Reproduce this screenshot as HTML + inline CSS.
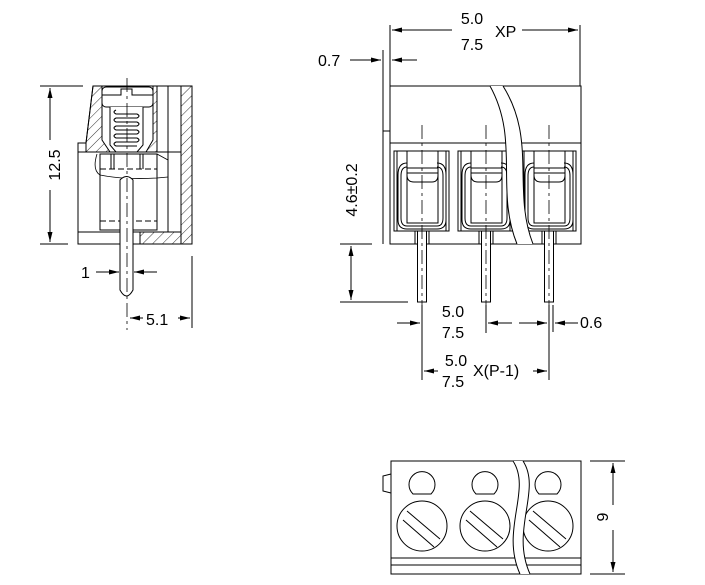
<!DOCTYPE html>
<html><head><meta charset="utf-8"><style>
html,body{margin:0;padding:0;background:#fff;}
svg{display:block;}
text{font-family:"Liberation Sans",sans-serif;font-size:16px;fill:#000;}
</style></head><body>
<svg width="705" height="585" viewBox="0 0 705 585" xmlns="http://www.w3.org/2000/svg">
<defs>
<pattern id="h" width="7" height="7" patternUnits="userSpaceOnUse" patternTransform="rotate(45)">
<line x1="0" y1="0" x2="0" y2="7" stroke="#000" stroke-width="0.8"/>
</pattern>
<marker id="a" viewBox="0 0 10 6" refX="10" refY="3" markerWidth="10" markerHeight="6" orient="auto-start-reverse" markerUnits="userSpaceOnUse">
<path d="M0,0.5 L10,3 L0,5.5z" fill="#000"/>
</marker>
<g id="cell" fill="none" stroke="#000" stroke-width="1">
<rect x="-28" y="151" width="55" height="80"/>
<line x1="-25" y1="151" x2="-25" y2="231"/>
<line x1="24" y1="151" x2="24" y2="231"/>
<path d="M-15,163 Q-24,163 -24,175 L-24,220 Q-24,229 -15,229 L15,229 Q24,229 24,220 L24,175 Q24,163 15,163"/>
<path d="M-15,167 Q-21,167 -21,176 L-21,218 Q-21,226 -15,226 L15,226 Q21,226 21,218 L21,176 Q21,167 15,167"/>
<path d="M-15,151 L-15,223 L16,223 L16,151"/>
<path d="M-15,175 Q-15,182 -8,182 L10,182 Q16,182 16,175"/>
<line x1="-15" y1="168" x2="16" y2="168"/>
<line x1="-15" y1="173" x2="16" y2="173"/>
<line x1="-7" y1="231" x2="-7" y2="244"/>
<line x1="7" y1="231" x2="7" y2="244"/>
<rect x="-4.5" y="231" width="9" height="71" fill="#fff"/>
<line x1="0" y1="125" x2="0" y2="310" stroke-dasharray="14,4,3,4" stroke-width="0.8"/>
</g>
</defs>

<g fill="none" stroke="#000" stroke-width="1">
<!-- LEFT VIEW -->
<line x1="40" y1="86" x2="83" y2="86"/>
<line x1="40" y1="244" x2="68" y2="244"/>
<line x1="50" y1="88" x2="50" y2="140" marker-start="url(#a)"/>
<line x1="50" y1="190" x2="50" y2="242" marker-end="url(#a)"/>
<path d="M93,86 L102,86 L102,140 L110,152 L86,152 L86,143 Z" fill="url(#h)"/>
<path d="M153,86 L157,86 L157,152 L146,152 L153,140 Z" fill="url(#h)"/>
<rect x="181" y="86" width="11" height="158" fill="url(#h)"/>
<path d="M140,232 L181,232 L181,244 L140,244 Z" fill="url(#h)"/>
<path d="M93,86 L192,86 L192,244 L78,244 L78,143 L86,143 Z"/>
<line x1="78" y1="152" x2="181" y2="152"/>
<line x1="157" y1="86" x2="157" y2="152"/>
<line x1="168" y1="86" x2="168" y2="232"/>
<line x1="181" y1="86" x2="181" y2="232"/>
<line x1="78" y1="232" x2="181" y2="232"/>
<line x1="140" y1="232" x2="140" y2="244"/>
<!-- screw -->
<rect x="102" y="87" width="51" height="20" rx="4" fill="#fff"/>
<path d="M102,95 L121,95 L121,89 L132,89 L132,95 L153,95"/>
<path d="M110,107 L110,145 L116,152 L137,152 L143,145 L143,107" fill="#fff"/>
<path d="M116,110 Q112,112 116,114 L137,114 Q141,116 137,118 L116,118 Q112,120 116,122 L137,122 Q141,124 137,126 L116,126 Q112,128 116,130 L137,130 Q141,132 137,134 L116,134 Q112,136 116,138 L137,138 Q141,140 137,142 L116,142 Q112,144 116,146 L137,146"/>
<rect x="100" y="154" width="57" height="76"/>
<line x1="100" y1="169" x2="157" y2="169" stroke-dasharray="6,3"/>
<line x1="100" y1="221" x2="157" y2="221" stroke-dasharray="6,3"/>
<line x1="111" y1="154" x2="111" y2="169"/>
<line x1="114" y1="154" x2="114" y2="169"/>
<line x1="140" y1="154" x2="140" y2="169"/>
<line x1="143" y1="154" x2="143" y2="169"/>
<path d="M97,154 Q92,170 100,175 Q125,180 157,178 L168,177" stroke-width="0.8"/>
<path d="M157,154 L168,160" stroke-width="0.8"/>
<path d="M120,180 L120,290 Q126.5,302 133,290 L133,180 Q126.5,173 120,180 Z" fill="#fff"/>
<line x1="127" y1="78" x2="127" y2="330" stroke-dasharray="14,4,3,4" stroke-width="0.8"/>
<line x1="96" y1="272" x2="119" y2="272" marker-end="url(#a)"/>
<line x1="157" y1="272" x2="134" y2="272" marker-end="url(#a)"/>
<line x1="192" y1="256" x2="192" y2="328"/>
<line x1="130" y1="318" x2="143" y2="318" marker-start="url(#a)"/>
<line x1="178" y1="318" x2="190" y2="318" marker-end="url(#a)"/>

<!-- RIGHT VIEW -->
<line x1="390" y1="25" x2="390" y2="120"/>
<line x1="580" y1="25" x2="580" y2="86"/>
<line x1="392" y1="30" x2="452" y2="30" marker-start="url(#a)"/>
<line x1="522" y1="30" x2="578" y2="30" marker-end="url(#a)"/>
<line x1="383" y1="50" x2="383" y2="244"/>
<line x1="350" y1="60" x2="381" y2="60" marker-end="url(#a)"/>
<line x1="417" y1="60" x2="392" y2="60" marker-end="url(#a)"/>
<rect x="390" y="86" width="191" height="158"/>
<line x1="390" y1="143" x2="581" y2="143"/>
<line x1="383" y1="131" x2="390" y2="131"/>
<use href="#cell" x="422"/>
<use href="#cell" x="486"/>
<use href="#cell" x="549"/>
<path d="M490,86 C520,140 495,190 517,244 L533,244 C512,190 537,140 503,86 Z" fill="#fff" stroke="none"/>
<path d="M490,86 C520,140 495,190 517,244 M503,86 C537,140 512,190 533,244"/>
<!-- 4.6 dim -->
<line x1="340" y1="244" x2="372" y2="244"/>
<line x1="340" y1="302" x2="408" y2="302"/>
<line x1="351" y1="246" x2="351" y2="300" marker-start="url(#a)" marker-end="url(#a)"/>
<!-- pitch dims -->
<line x1="422" y1="305" x2="422" y2="380"/>
<line x1="549" y1="305" x2="549" y2="380"/>
<line x1="553" y1="305" x2="553" y2="332"/>
<line x1="486" y1="305" x2="486" y2="333"/>
<line x1="397" y1="323" x2="420" y2="323" marker-end="url(#a)"/>
<line x1="512" y1="323" x2="488" y2="323" marker-end="url(#a)"/>
<line x1="519" y1="323" x2="547" y2="323" marker-end="url(#a)"/>
<line x1="578" y1="323" x2="555" y2="323" marker-end="url(#a)"/>
<line x1="424" y1="371" x2="438" y2="371" marker-start="url(#a)"/>
<line x1="533" y1="371" x2="547" y2="371" marker-end="url(#a)"/>

<!-- BOTTOM VIEW -->
<rect x="391" y="461" width="190" height="113"/>
<line x1="391" y1="558" x2="581" y2="558"/>
<line x1="391" y1="565" x2="581" y2="565"/>
<path d="M391,474 L383,476 L383,491 L391,493"/>
<g id="sc">
<path d="M413,494 A13,13 0 1 1 431,494 Z"/>
<circle cx="422" cy="526" r="25"/>
<line x1="407" y1="511" x2="440" y2="539"/>
<line x1="403" y1="520" x2="434" y2="547"/>
</g>
<use href="#sc" x="63"/>
<use href="#sc" x="126"/>
<path d="M513,461 C532,490 500,530 520,574 L530,574 C510,530 542,490 523,461 Z" fill="#fff" stroke="none"/>
<path d="M513,461 C532,490 500,530 520,574 M523,461 C542,490 510,530 530,574"/>
<line x1="590" y1="461" x2="625" y2="461"/>
<line x1="590" y1="574" x2="625" y2="574"/>
<line x1="613" y1="463" x2="613" y2="505" marker-start="url(#a)"/>
<line x1="613" y1="530" x2="613" y2="572" marker-end="url(#a)"/>
</g>

<text x="60" y="165" text-anchor="middle" transform="rotate(-90 60 165)" font-size="18">12.5</text>
<text x="81" y="278">1</text>
<text x="146" y="325">5.1</text>
<text x="472" y="24" text-anchor="middle">5.0</text>
<text x="472" y="50" text-anchor="middle">7.5</text>
<text x="495" y="37">XP</text>
<text x="318" y="66">0.7</text>
<text x="357" y="190" text-anchor="middle" transform="rotate(-90 357 190)">4.6±0.2</text>
<text x="453" y="317" text-anchor="middle">5.0</text>
<text x="453" y="338" text-anchor="middle">7.5</text>
<text x="580" y="328">0.6</text>
<text x="456" y="366" text-anchor="middle">5.0</text>
<text x="453" y="387" text-anchor="middle">7.5</text>
<text x="473" y="376">X(P-1)</text>
<text x="608" y="517" text-anchor="middle" transform="rotate(-90 608 517)" font-size="18">9</text>
</svg>
</body></html>
